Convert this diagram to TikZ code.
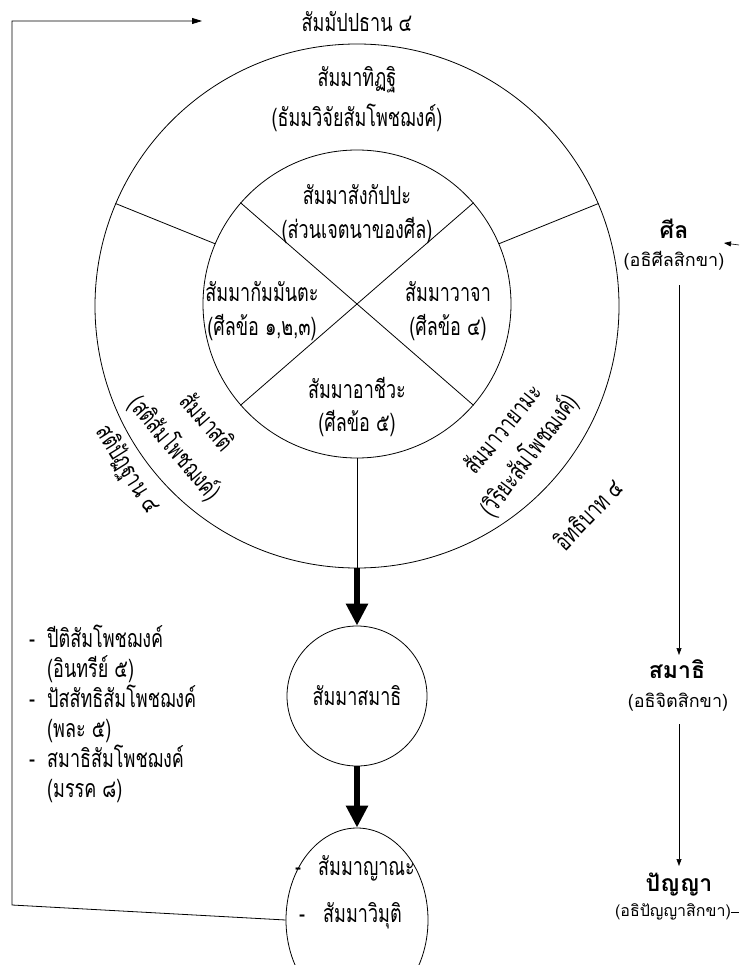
\documentclass[tikz,border=0pt]{standalone}
\usepackage{fontspec}
\newfontfamily\thai[Script=Thai]{Loma}
\newfontfamily\thaic[Script=Thai,FakeStretch=0.72]{Loma}
\usetikzlibrary{arrows.meta,shapes.geometric}
\begin{document}
\begin{tikzpicture}[x=1pt,y=-1pt,
  txt/.style={font=\thaic\fontsize{25}{28}\selectfont, inner sep=0pt},
  item/.style={txt, anchor=base west},
  side/.style={font=\thai\fontsize{18}{21}\selectfont, inner sep=0pt},
  sidesmall/.style={font=\thai\fontsize{16}{19}\selectfont, inner sep=0pt},
  sidebold/.style={font=\thai\bfseries\fontsize{23}{26}\selectfont, inner sep=0pt},
  ln/.style={line width=0.8pt},
  bigarrow/.style={line width=6.5pt, -{Triangle[length=22pt,width=21pt]}},
  smallarrow/.style={line width=0.6pt, -{Triangle[length=7pt,width=5pt]}},
  ring/.style={circle, draw, line width=0.8pt, inner sep=0pt},
]
\useasboundingbox (0,0) rectangle (739,965);
\fill[white] (0,0) rectangle (739,965);

% circles
\node[ring, minimum size=524pt] (outer) at (357,306) {};
\node[ring, minimum size=308pt] (inner) at (357,304) {};
\draw[ln] (inner.41) -- (inner.221);
\draw[ln] (inner.139) -- (inner.319);
\draw[ln] (inner.157) -- (outer.157);
\draw[ln] (inner.23) -- (outer.23);
\draw[ln] (inner.south) -- (outer.south);

\node[ring, minimum size=140pt, txt] (samadhi) at (357,696) {สัมมาสมาธิ};
\node[ellipse, draw, line width=0.8pt, minimum width=142pt, minimum height=184pt, inner sep=0pt] (vimutti) at (357,920) {};

\draw[bigarrow] (outer.south) -- (samadhi.north);
\draw[bigarrow] (samadhi.south) -- (vimutti.north);

% feedback loop
\coordinate (fbA) at (12,905);
\coordinate (fbB) at (12,21);
\coordinate (fbC) at (202,21);
\draw[ln, -{Triangle[length=10pt,width=6pt]}] (vimutti.west) -- (fbA) -- (fbB) -- (fbC);

% top label
\node[txt] (sammappadhana) at (357,22) {สัมมัปปธาน ๔};

% ring top
\node[txt] (ditthi) at (357,80) {สัมมาทิฏฐิ};
\node[txt] (ditthi2) at (357,118) {(ธัมมวิจัยสัมโพชฌงค์)};

% inner quadrants
\node[txt] (sankappa) at (357,195) {สัมมาสังกัปปะ};
\node[txt] (sankappa2) at (357,231) {(ส่วนเจตนาของศีล)};
\node[txt] (kammanta) at (262,292) {สัมมากัมมันตะ};
\node[txt] (kammanta2) at (262,328) {(ศีลข้อ ๑,๒,๓)};
\node[txt] (vaca) at (448,292) {สัมมาวาจา};
\node[txt] (vaca2) at (448,328) {(ศีลข้อ ๔)};
\node[txt] (ajiva) at (357,388) {สัมมาอาชีวะ};
\node[txt] (ajiva2) at (357,424) {(ศีลข้อ ๕)};

% rotated ring texts
\node[txt, rotate=-49] (sati) at (208,421) {สัมมาสติ};
\node[txt, rotate=-50] (sati2) at (175,448) {(สติสัมโพชฌงค์)};
\node[txt, rotate=-58] (satipatthana) at (127,470) {สติปัฏฐาน ๔};
\node[txt, rotate=51] (vayama) at (502,428) {สัมมาวายามะ};
\node[txt, rotate=53] (vayama2) at (529,455) {(วิริยะสัมโพชฌงค์)};
\node[txt, rotate=46] (iddhipada) at (588,514) {อิทธิบาท ๔};

% left list (baselines)
\node[item] (d1) at (29,647) {-};
\node[item] (piti) at (47,647) {ปีติสัมโพชฌงค์};
\node[item] (piti2) at (47,677) {(อินทรีย์ ๕)};
\node[item] (d2) at (29,707) {-};
\node[item] (passaddhi) at (47,707) {ปัสสัทธิสัมโพชฌงค์};
\node[item] (passaddhi2) at (47,737) {(พละ ๕)};
\node[item] (d3) at (29,767) {-};
\node[item] (samadhisam) at (47,767) {สมาธิสัมโพชฌงค์};
\node[item] (samadhisam2) at (47,797) {(มรรค ๘)};

% ellipse texts
\node[item] (d4) at (295,875) {-};
\node[item] (nana) at (318,875) {สัมมาญาณะ};
\node[item] (d5) at (299,922) {-};
\node[item] (vimutti1) at (323,922) {สัมมาวิมุติ};

% right column
\node[sidebold] (sila) at (674,229) {ศีล};
\node[side] (sila2) at (674,261) {(อธิศีลสิกขา)};
\node[sidebold] (samadhiR) at (677,669) {สมาธิ};
\node[side] (samadhiR2) at (678,702) {(อธิจิตสิกขา)};
\node[sidebold] (panna) at (679,885) {ปัญญา};
\node[sidesmall] (panna2) at (673,912) {(อธิปัญญาสิกขา)};

\coordinate (inR) at (739,245);
\coordinate (inRend) at (724,243);
\draw[smallarrow] (inR) -- (inRend);
\coordinate (s1) at (679,285);
\coordinate (s2) at (679,655);
\coordinate (s3) at (679,724);
\coordinate (s4) at (679,866);
\draw[smallarrow] (s1) -- (s2);
\draw[smallarrow] (s3) -- (s4);
\coordinate (outR) at (739,912);
\draw[ln] (panna2.east) -- (outR);
\end{tikzpicture}
\end{document}
